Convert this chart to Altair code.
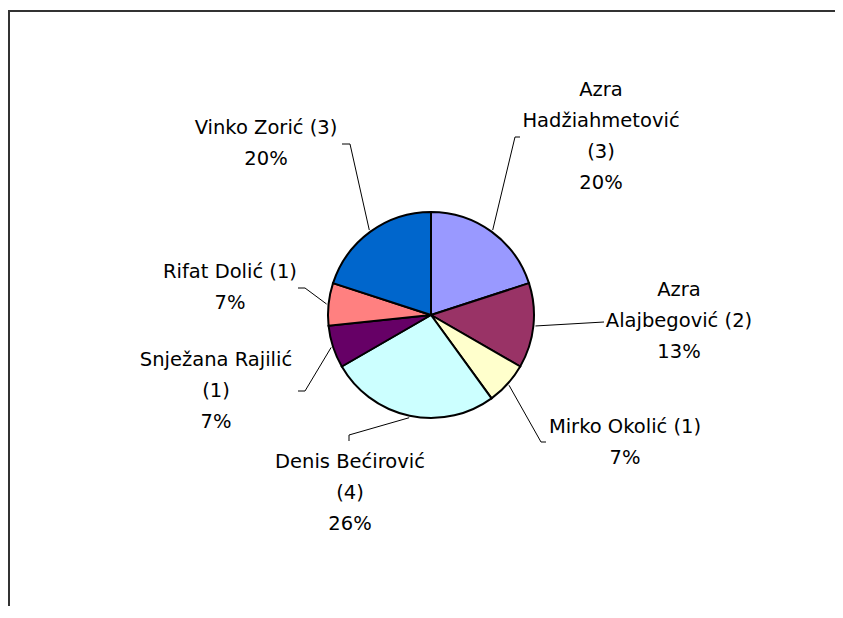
import math
import altair as alt
import pandas as pd

# ---- data ----
names = ["Azra Hadžiahmetović", "Azra Alajbegović", "Mirko Okolić", "Denis Bećirović",
         "Snježana Rajilić", "Rifat Dolić", "Vinko Zorić"]
counts = [3, 2, 1, 4, 1, 1, 3]
pct_labels = ["20%", "13%", "7%", "26%", "7%", "7%", "20%"]
colors = ["#9999FF", "#993366", "#FFFFCC", "#CCFFFF", "#660066", "#FF8080", "#0066CC"]

# ---- layout (page pixel coordinates) ----
W, H = 827, 598
CX, CY, R = 431, 315, 103
LH = 31
label_pos = [(601, 136), (679, 321), (625, 442), (350, 493), (216, 391), (230, 287), (266, 143)]
leader_elbow = [(515, 137), (604, 322), (541, 442), (349, 435), (305, 391), (305, 288), (350, 144)]
leader_end = [(520, 137), None, (546, 442), (349, 441), (298, 391), (298, 288), (342, 144)]
words_per_line = [[1, 1, 1], [1, 2], [3], [2, 1], [2, 1], [3], [3]]

total = sum(counts)
pie_df = pd.DataFrame({"name": names, "count": counts, "idx": list(range(len(names)))})

# labels
lab_rows = []
for i, (n, c, p) in enumerate(zip(names, counts, pct_labels)):
    words = f"{n} ({c})".split(" ")
    lines, k = [], 0
    for w in words_per_line[i]:
        lines.append(" ".join(words[k:k + w]))
        k += w
    lines.append(p)
    first_y = label_pos[i][1] - (len(lines) - 1) * LH / 2
    lab_rows.append({"x": label_pos[i][0], "y": first_y, "text": "\n".join(lines)})
lab_df = pd.DataFrame(lab_rows)

# leader lines
lead_rows = []
cum = 0
for i, c in enumerate(counts):
    mid = (cum + c / 2) / total * 2 * math.pi
    cum += c
    sx = CX + (R + 2) * math.sin(mid)
    sy = CY - (R + 2) * math.cos(mid)
    pts = [(sx, sy), leader_elbow[i]]
    if leader_end[i] is not None:
        pts.append(leader_end[i])
    for k, (px, py) in enumerate(pts):
        lead_rows.append({"id": i, "k": k, "x": px, "y": py})
lead_df = pd.DataFrame(lead_rows)

xs = alt.Scale(domain=[8, 8 + W], nice=False, zero=False)
ys = alt.Scale(domain=[8, 8 + H], nice=False, zero=False, reverse=True)

pie = alt.Chart(pie_df).mark_arc(outerRadius=R, stroke="black", strokeWidth=2).encode(
    theta=alt.Theta("count:Q", stack=True),
    color=alt.Color("name:N", scale=alt.Scale(domain=names, range=colors), legend=None),
    order=alt.Order("idx:Q"),
    x=alt.value(CX - 8),
    y=alt.value(CY - 8),
)

leaders = alt.Chart(lead_df).mark_line(color="black", strokeWidth=1).encode(
    x=alt.X("x:Q", scale=xs, axis=None),
    y=alt.Y("y:Q", scale=ys, axis=None),
    detail="id:N",
    order="k:Q",
)

labels = alt.Chart(lab_df).mark_text(
    font="DejaVu Sans", fontSize=19.5, lineBreak="\n", lineHeight=LH,
    align="center", baseline="middle", color="black",
).encode(
    x=alt.X("x:Q", scale=xs, axis=None),
    y=alt.Y("y:Q", scale=ys, axis=None),
    text="text:N",
)

frame_df = pd.DataFrame({"a": [0]})
top_line = alt.Chart(frame_df).mark_rule(color="#333333", strokeWidth=2).encode(
    x=alt.value(0), x2=alt.value(W), y=alt.value(3)
)
left_line = alt.Chart(frame_df).mark_rule(color="#333333", strokeWidth=2).encode(
    x=alt.value(1), y=alt.value(2), y2=alt.value(H)
)

chart = alt.layer(pie, leaders, labels, top_line, left_line).properties(
    width=W, height=H, padding=0, autosize="none"
).configure_view(stroke=None)

chart.save("out.html", embed_options={"renderer": "svg", "actions": False})
